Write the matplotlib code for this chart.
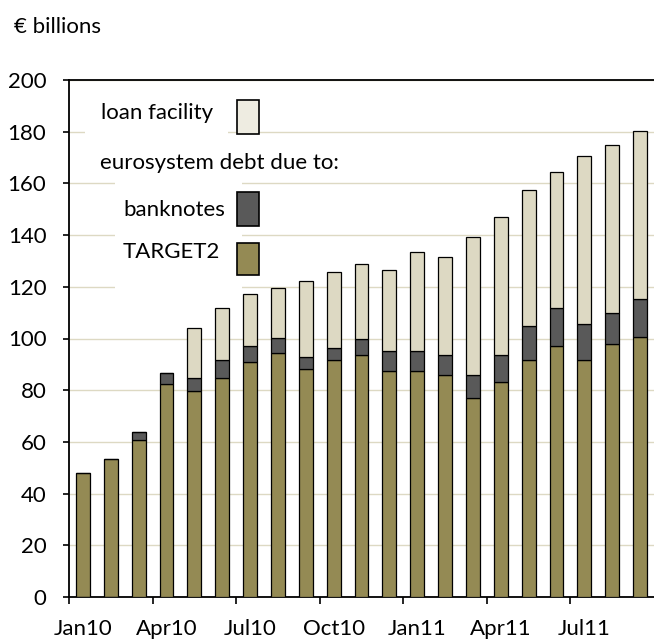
import matplotlib
matplotlib.use('Agg')
import matplotlib.pyplot as plt
from matplotlib.patches import Rectangle
import numpy as np

plt.rcParams['font.family'] = ['Lato', 'DejaVu Sans']

months = ['Jan10', 'Feb10', 'Mar10', 'Apr10', 'May10', 'Jun10', 'Jul10', 'Aug10', 'Sep10',
          'Oct10', 'Nov10', 'Dec10', 'Jan11', 'Feb11', 'Mar11', 'Apr11', 'May11', 'Jun11',
          'Jul11', 'Aug11', 'Sep11']
target2 = [48.0, 53.5, 60.7, 82.4, 79.7, 84.6, 90.8, 94.3, 88.1, 91.5, 93.6,
           87.3, 87.3, 85.9, 76.9, 83.1, 91.6, 97.1, 91.6, 97.8, 100.5]
banknotes = [-0.8, -0.7, 3.0, 4.4, 4.9, 7.0, 6.4, 5.8, 4.9, 4.8, 6.3,
             7.9, 7.9, 7.7, 9.0, 10.5, 13.2, 14.7, 14.0, 11.9, 14.8]
loan_facility = [0, 0, 0, 0, 19.6, 20.3, 20.1, 19.4, 29.4, 29.6, 28.8,
                 31.3, 38.3, 37.9, 53.2, 53.3, 52.5, 52.6, 65.1, 65.2, 65.0]

c_t2 = '#948A54'
c_bn = '#595959'
c_lf = '#DDD9C3'
c_lf_key = '#EEECE1'
grid_c = '#DDD9C3'
fs = 16

W, H = 654, 641
fig = plt.figure(figsize=(W / 100, H / 100), dpi=100)
ax = fig.add_axes([69 / W, 1 - 597 / H, (W - 69) / W, (597 - 80) / H])

x = np.arange(len(months))
t2 = np.array(target2)
bn = np.array(banknotes)
lf = np.array(loan_facility)
bn_bottom = np.where(bn >= 0, t2, 0)
lf_bottom = t2 + np.clip(bn, 0, None)

kw = dict(width=0.5, edgecolor='black', linewidth=0.9, zorder=3)
ax.bar(x, t2, color=c_t2, **kw)
ax.bar(x, bn, bottom=bn_bottom, color=c_bn, **kw)
ax.bar(x, lf, bottom=lf_bottom, color=c_lf, **kw)

ax.set_xlim(-0.5, 20.5)
ax.set_ylim(0, 200)
ax.set_yticks(np.arange(0, 201, 20))
ax.tick_params(axis='y', direction='out', length=4.3, width=1.2, pad=12, labelsize=fs)
ax.yaxis.grid(True, color=grid_c, linewidth=1.0, zorder=0)
ax.set_axisbelow(True)

ax.set_xticks(np.arange(-0.5, 18, 3))
ax.set_xticklabels([])
ax.set_xticks(x[::3], minor=True)
ax.set_xticklabels(months[::3], minor=True)
ax.tick_params(axis='x', which='major', direction='out', length=5, width=1.2)
ax.tick_params(axis='x', which='minor', length=0, pad=16, labelsize=fs)

for s in ['left', 'bottom', 'top']:
    ax.spines[s].set_linewidth(1.3)
ax.spines['right'].set_visible(False)


def px(xp, yp):
    return xp / W, 1 - yp / H


# white boxes behind the key, as in the original
for (x0, y0, x1, y1) in [(85, 95, 228, 140), (115, 140, 242, 292)]:
    fig.patches.append(Rectangle(px(x0, y1), (x1 - x0) / W, (y1 - y0) / H,
                                 transform=fig.transFigure, facecolor='white',
                                 edgecolor='none', zorder=1))

key_swatches = [(c_lf_key, 100, 134), (c_bn, 192, 226), (c_t2, 243, 275)]
for col, y0, y1 in key_swatches:
    fig.patches.append(Rectangle(px(237, y1), 22 / W, (y1 - y0) / H,
                                 transform=fig.transFigure, facecolor=col,
                                 edgecolor='black', linewidth=1.2, zorder=2))

key_texts = [('loan facility', 101, 113), ('eurosystem debt due to:', 100, 163),
             ('banknotes', 123, 210), ('TARGET2', 123, 252)]
for t, xp, yp in key_texts:
    fig.text(*px(xp, yp), t, fontsize=fs, ha='left', va='center')

fig.text(*px(14, 27), '€ billions', fontsize=fs, ha='left', va='center')

fig.savefig('out.png', dpi=100)
